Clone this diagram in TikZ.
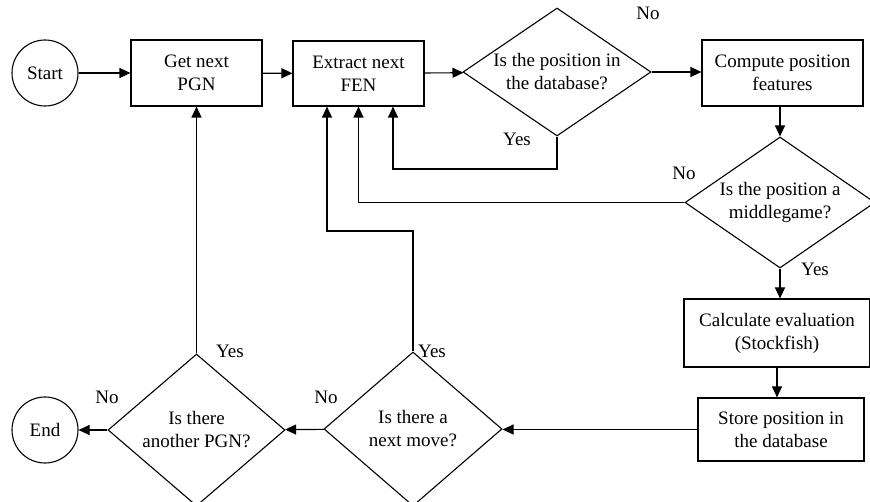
\documentclass[tikz,border=0pt]{standalone}
\usepackage{fontspec}
\setmainfont{Liberation Serif}
\usetikzlibrary{shapes.geometric, arrows.meta, positioning}

\begin{document}
\begin{tikzpicture}[x=1pt, y=-1pt, line width=1.1pt,
    >={Triangle[length=11pt,width=10pt]},
    every node/.style={font=\fontsize{19}{23}\selectfont},
    term/.style={draw, circle, minimum size=66pt, inner sep=0pt},
    proc/.style={draw, rectangle, align=center, inner sep=0pt},
    test/.style={draw, diamond, align=center, inner sep=-3pt}]
    \useasboundingbox (0,0) rectangle (870,502);

    % top row
    \node[term] (start) at (45,73) {Start};
    \node[proc, minimum width=131pt, minimum height=66pt] (getpgn) at (196.5,73) {Get next\\PGN};
    \node[proc, minimum width=131pt, minimum height=65pt] (getfen) at (358.5,73.5) {Extract next\\FEN};
    \node[test, aspect=1.47, minimum width=188pt, minimum height=128pt] (indb) at (557,72) {Is the position in\\the database?};
    \node[proc, minimum width=161pt, minimum height=66pt] (feat) at (782.5,73) {Compute position\\features};

    % right column
    \node[test, aspect=1.45, minimum width=190pt, minimum height=131pt] (middle) at (780,202.5) {Is the position a\\middlegame?};
    \node[proc, minimum width=186pt, minimum height=68pt] (evalsf) at (777,333) {Calculate evaluation\\(Stockfish)};
    \node[proc, minimum width=166pt, minimum height=63pt] (store) at (781,429.5) {Store position in\\the database};

    % bottom row
    \node[test, aspect=1.16, minimum width=178pt, minimum height=154pt] (nextmv) at (413,429) {Is there a\\next move?};
    \node[test, aspect=1.16, minimum width=177pt, minimum height=152pt] (anpgn) at (196.5,430) {Is there\\another PGN?};
    \node[term] (end) at (45,430) {End};

    \draw[->] (start) -- (getpgn);
    \draw[->] (getpgn) -- (getfen);
    \draw[->] (getfen) -- (indb);
    \draw[->] (indb.east) -- (indb.east -| feat.west);
    \draw[->] (middle.north |- feat.south) -- (middle.north);
    \draw[->] (middle.south) -- (middle.south |- evalsf.north);
    \draw[->] (evalsf.south) -- (evalsf.south |- store.north);
    \draw[->] (store.west) -- (store.west -| nextmv.east);
    \draw[->] (nextmv) -- (anpgn);
    \draw[->] (anpgn) -- (end);
    \draw[->] (anpgn.north) -- (anpgn.north |- getpgn.south);

    % loops back to the FEN box
    \draw[->] (indb.south) -- (indb.south |- 0,169) -| ([xshift=34.5]getfen.south);
    \draw[->] (middle.west) -| (getfen.south);
    \draw[->] (nextmv.north) -- (nextmv.north |- 0,231) -| ([xshift=-31.5]getfen.south);

    % branch labels
    \node (indbno) at (648,13) {No};
    \node (indbyes) at (517,139) {Yes};
    \node (middleno) at (684,173) {No};
    \node (middleyes) at (815,269) {Yes};
    \node (anpgnyes) at (230,351) {Yes};
    \node (nextmvyes) at (432,351) {Yes};
    \node (anpgnno) at (107,397) {No};
    \node (nextmvno) at (326,397) {No};
\end{tikzpicture}
\end{document}
